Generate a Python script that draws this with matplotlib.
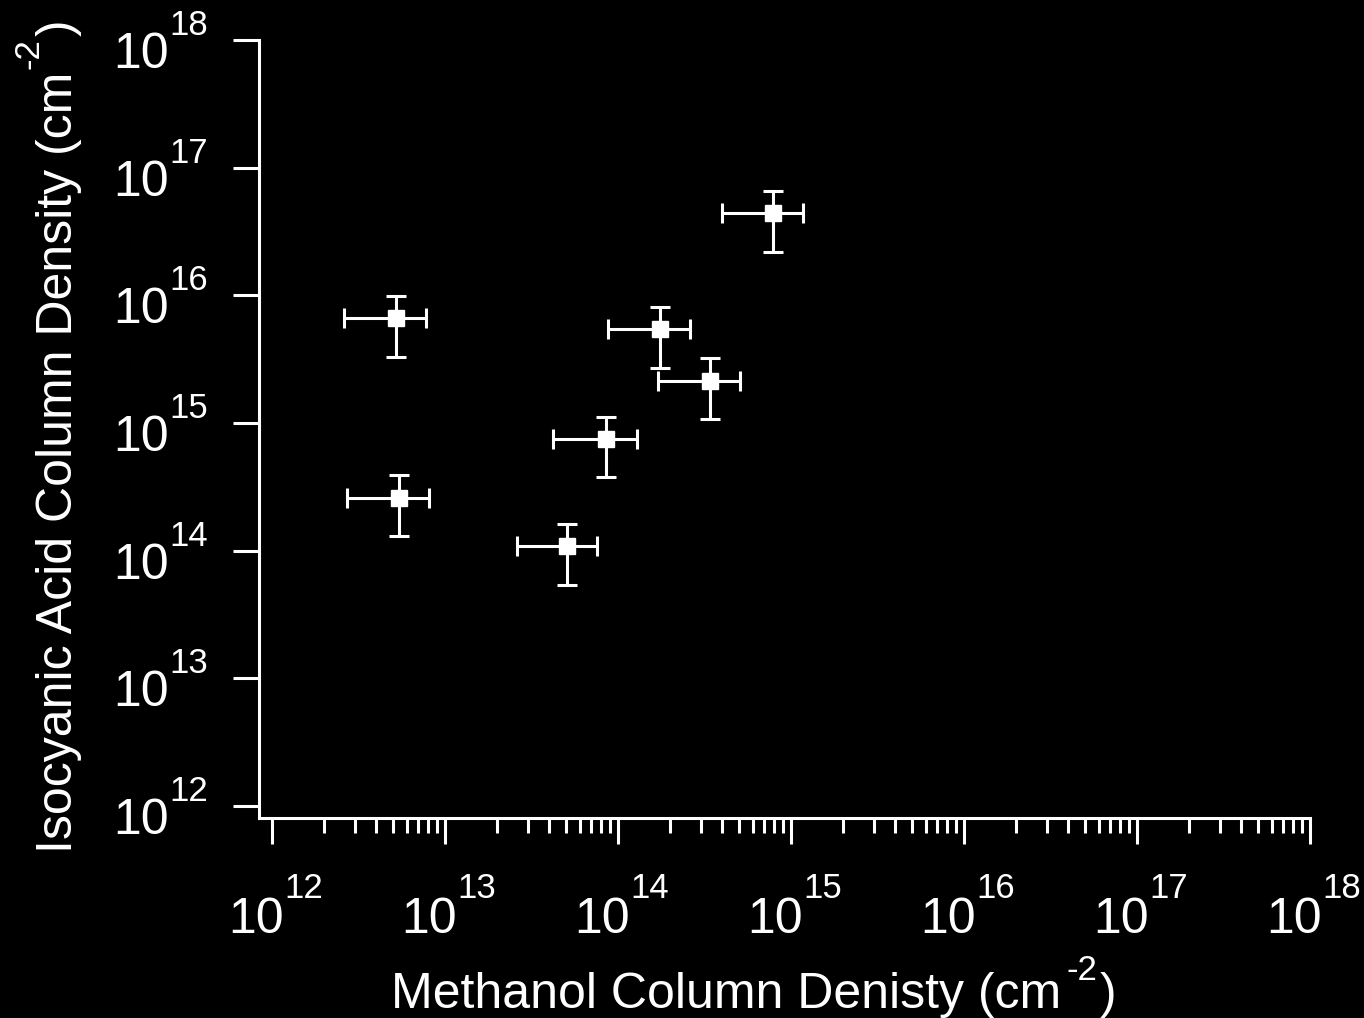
import numpy as np
import matplotlib
matplotlib.use("Agg")
import matplotlib.pyplot as plt
from matplotlib.ticker import FixedLocator, NullLocator
from matplotlib.transforms import offset_copy

plt.rcParams['font.family'] = ['Liberation Sans', 'DejaVu Sans']

# values (cm^-2)
methanol = [5.2e12, 5.4e12, 5.1e13, 8.5e13, 1.75e14, 3.4e14, 7.9e14]
methanol_err = [2.6e12, 2.7e12, 2.5e13, 4.3e13, 8.7e13, 1.7e14, 3.9e14]
hnco = [6.6e15, 2.6e14, 1.08e14, 7.5e14, 5.4e15, 2.15e15, 4.4e16]
hnco_err = [3.3e15, 1.3e14, 5.4e13, 3.7e14, 2.7e15, 1.08e15, 2.2e16]
decades = [12, 13, 14, 15, 16, 17, 18]

W, H = 1364, 1018
fig = plt.figure(figsize=(W / 100, H / 100), dpi=100, facecolor='black')
ax = fig.add_axes([259 / W, (H - 818) / H, (1310 - 259) / W, (818 - 40) / H])
ax.set_facecolor('black')
ax.set_xscale('log')
ax.set_yscale('log')
# start the axes a little before 1e12 so the spines meet in a corner
ax.set_xlim(10 ** (12 - 13 / 173), 1e18)
ax.set_ylim(10 ** (12 - 12 / 127.6), 1e18)

ax.errorbar(methanol, hnco, xerr=methanol_err, yerr=hnco_err, fmt='s',
            color='white', ecolor='white', mec='white', ms=12,
            elinewidth=2.2, capsize=7.5, capthick=2.2)

for side in ['top', 'right']:
    ax.spines[side].set_visible(False)
for side in ['left', 'bottom']:
    ax.spines[side].set_color('white')
    ax.spines[side].set_linewidth(2.2)

major = [10.0 ** k for k in decades]
ax.xaxis.set_major_locator(FixedLocator(major))
ax.yaxis.set_major_locator(FixedLocator(major))
ax.xaxis.set_minor_locator(FixedLocator([m * 10.0 ** k for k in decades[:-1] for m in range(2, 10)]))
ax.yaxis.set_minor_locator(NullLocator())
ax.tick_params(which='major', direction='out', color='white', width=2.2, length=19,
               labelleft=False, labelbottom=False)
ax.tick_params(axis='x', which='minor', direction='out', color='white', width=2.2, length=11)

# tick labels drawn as "10" plus a raised exponent
ytr = ax.get_yaxis_transform()
xtr = ax.get_xaxis_transform()
for k in decades:
    ax.text(0, 10.0 ** k, '10', transform=offset_copy(ytr, fig, x=-90, y=-28, units='dots'),
            ha='right', va='baseline', fontsize=36, color='white')
    ax.text(0, 10.0 ** k, str(k), transform=offset_copy(ytr, fig, x=-90, y=5, units='dots'),
            ha='left', va='baseline', fontsize=25, color='white')
    ax.text(10.0 ** k, 0, '10', transform=offset_copy(xtr, fig, x=12, y=-115, units='dots'),
            ha='right', va='baseline', fontsize=36, color='white')
    ax.text(10.0 ** k, 0, str(k), transform=offset_copy(xtr, fig, x=12, y=-80, units='dots'),
            ha='left', va='baseline', fontsize=25, color='white')

# axis labels with superscript units
xlab = fig.text(391 / W, 10 / H, 'Methanol Column Denisty (cm', fontsize=36, color='white',
                ha='left', va='baseline')
xsup = ax.annotate('-2', xy=(1, 38), xycoords=(xlab, 'figure pixels'), xytext=(5, 0),
                   textcoords='offset pixels', fontsize=25, color='white', ha='left', va='baseline')
ax.annotate(')', xy=(1, 10), xycoords=(xsup, 'figure pixels'), xytext=(3, 0),
            textcoords='offset pixels', fontsize=36, color='white', ha='left', va='baseline')

ylab = fig.text(72 / W, 165 / H, 'Isocyanic Acid Column Density (cm', fontsize=36, color='white',
                rotation=90, rotation_mode='anchor', ha='left', va='baseline')
ysup = ax.annotate('-2', xy=(38, 1), xycoords=('figure pixels', ylab), xytext=(0, 3),
                   textcoords='offset pixels', fontsize=25, color='white', rotation=90,
                   rotation_mode='anchor', ha='left', va='baseline')
ax.annotate(')', xy=(72, 1), xycoords=('figure pixels', ysup), xytext=(0, 2),
            textcoords='offset pixels', fontsize=36, color='white', rotation=90,
            rotation_mode='anchor', ha='left', va='baseline')

fig.savefig('out.png', dpi=100, facecolor='black')
